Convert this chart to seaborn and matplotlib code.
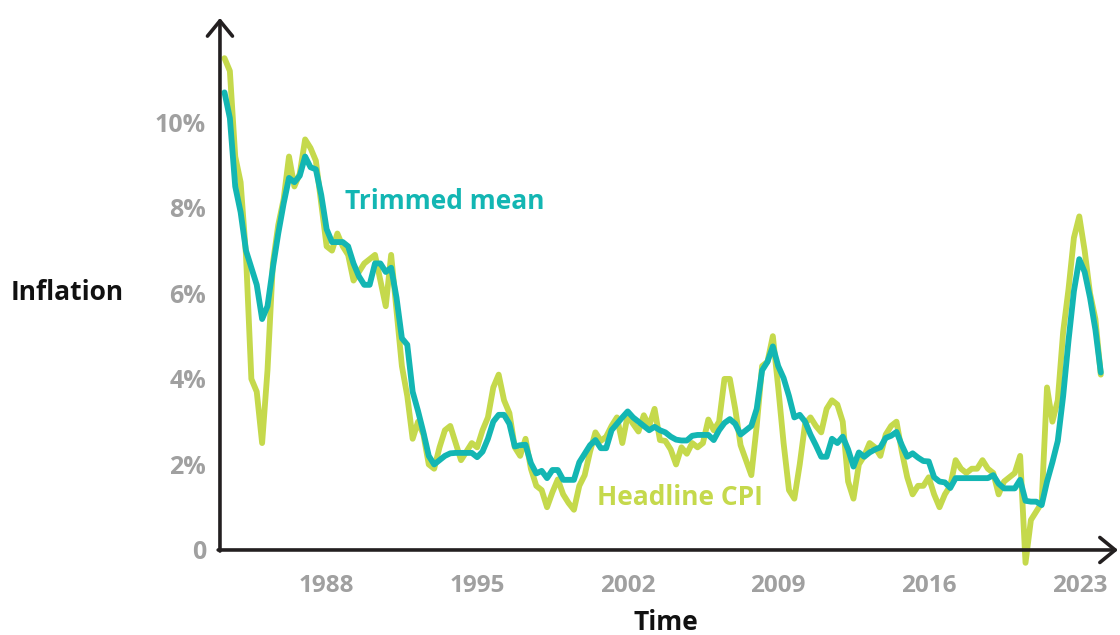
import numpy as np
import pandas as pd
import matplotlib
matplotlib.use("Agg")
import matplotlib.pyplot as plt
import seaborn as sns

# ---------------- data (year-ended %, quarterly, 1983Q1 .. 2023Q4) ----------------
quarters = pd.period_range("1983Q1", "2023Q4", freq="Q")

headline_cpi = [
    11.5, 11.2, 9.2, 8.6, 6.9, 4.0, 3.7, 2.5,            # 1983-84
    4.2, 6.7, 7.6, 8.2, 9.2, 8.5, 8.8, 9.6,              # 1985-86
    9.4, 9.1, 8.1, 7.1, 7.0, 7.4, 7.1, 6.9,              # 1987-88
    6.3, 6.5, 6.7, 6.8, 6.9, 6.3, 5.7, 6.9,              # 1989-90
    5.6, 4.3, 3.6, 2.6, 3.0, 2.7, 2.0, 1.9,              # 1991-92
    2.4, 2.8, 2.9, 2.5, 2.1, 2.3, 2.5, 2.4,              # 1993-94
    2.8, 3.1, 3.8, 4.1, 3.5, 3.2, 2.4, 2.2,              # 1995-96
    2.6, 1.9, 1.5, 1.4, 1.0, 1.35, 1.65, 1.3,            # 1997-98
    1.1, 0.94, 1.5, 1.75, 2.3, 2.75, 2.55, 2.65,         # 1999-00
    2.9, 3.1, 2.5, 3.15, 2.95, 2.77, 3.15, 2.9,          # 2001-02
    3.3, 2.57, 2.55, 2.35, 2.0, 2.4, 2.25, 2.5,          # 2003-04
    2.4, 2.5, 3.05, 2.8, 3.0, 4.0, 4.0, 3.3,             # 2005-06
    2.45, 2.1, 1.75, 2.9, 4.3, 4.4, 5.0, 3.8,            # 2007-08
    2.5, 1.4, 1.2, 2.0, 2.95, 3.1, 2.9, 2.75,            # 2009-10
    3.3, 3.5, 3.4, 3.0, 1.6, 1.2, 2.0, 2.2,              # 2011-12
    2.5, 2.4, 2.2, 2.7, 2.9, 3.0, 2.3, 1.7,              # 2013-14
    1.3, 1.5, 1.5, 1.7, 1.3, 1.0, 1.3, 1.5,              # 2015-16
    2.1, 1.9, 1.8, 1.9, 1.9, 2.1, 1.9, 1.8,              # 2017-18
    1.3, 1.6, 1.7, 1.8, 2.2, -0.3, 0.7, 0.9,             # 2019-20
    1.1, 3.8, 3.0, 3.5, 5.1, 6.1, 7.3, 7.8,              # 2021-22
    7.0, 6.0, 5.4, 4.1,                                  # 2023
]

trimmed_mean = [
    10.7, 10.1, 8.5, 7.9, 7.0, 6.6, 6.2, 5.4,            # 1983-84
    5.7, 6.6, 7.4, 8.1, 8.7, 8.6, 8.75, 9.2,             # 1985-86
    8.95, 8.9, 8.3, 7.5, 7.2, 7.2, 7.2, 7.1,             # 1987-88
    6.7, 6.4, 6.2, 6.2, 6.7, 6.7, 6.5, 6.6,              # 1989-90
    5.9, 4.95, 4.8, 3.7, 3.25, 2.75, 2.2, 2.0,           # 1991-92
    2.1, 2.2, 2.26, 2.27, 2.27, 2.27, 2.27, 2.17,        # 1993-94
    2.3, 2.6, 3.0, 3.16, 3.16, 2.95, 2.42, 2.45,         # 1995-96
    2.46, 2.03, 1.79, 1.85, 1.68, 1.87, 1.87, 1.64,      # 1997-98
    1.64, 1.64, 2.05, 2.25, 2.45, 2.57, 2.38, 2.38,      # 1999-00
    2.8, 2.95, 3.1, 3.24, 3.1, 3.0, 2.9, 2.8,            # 2001-02
    2.88, 2.8, 2.75, 2.65, 2.58, 2.56, 2.56, 2.67,       # 2003-04
    2.69, 2.69, 2.69, 2.57, 2.8, 2.97, 3.06, 2.95,       # 2005-06
    2.7, 2.8, 2.9, 3.3, 4.2, 4.4, 4.76, 4.3,             # 2007-08
    4.02, 3.6, 3.1, 3.16, 3.0, 2.7, 2.45, 2.18,          # 2009-10
    2.18, 2.6, 2.5, 2.65, 2.35, 1.95, 2.28, 2.18,        # 2011-12
    2.28, 2.35, 2.4, 2.62, 2.67, 2.76, 2.45, 2.18,       # 2013-14
    2.26, 2.16, 2.08, 2.07, 1.7, 1.6, 1.58, 1.45,        # 2015-16
    1.68, 1.68, 1.68, 1.68, 1.68, 1.68, 1.68, 1.75,      # 2017-18
    1.55, 1.44, 1.44, 1.44, 1.64, 1.15, 1.13, 1.13,      # 2019-20
    1.05, 1.6, 2.05, 2.55, 3.6, 4.9, 6.05, 6.8,          # 2021-22
    6.5, 5.9, 5.15, 4.15,                                # 2023
]

x_ticks = [1988, 1995, 2002, 2009, 2016, 2023]
y_ticks = [0, 2, 4, 6, 8, 10]
y_tick_labels = ["0", "2%", "4%", "6%", "8%", "10%"]
series_names = ["Headline CPI", "Trimmed mean"]
series_colors = ["#c5d94c", "#13b6b3"]

# quarter-end position on a decimal-year axis
time = np.asarray(quarters.year + quarters.quarter / 4.0, dtype=float)

df = pd.DataFrame({
    "time": np.concatenate([time, time]),
    "value": headline_cpi + trimmed_mean,
    "series": [series_names[0]] * len(time) + [series_names[1]] * len(time),
})

# ---------------- figure ----------------
sns.set_theme(style="white")
plt.rcParams["font.family"] = ["Open Sans", "DejaVu Sans"]

fig = plt.figure(figsize=(11.2, 6.35), dpi=100)
ax = fig.add_axes([0.1964, 0.1339, 0.8018, 0.8378])

sns.lineplot(
    data=df, x="time", y="value", hue="series",
    hue_order=series_names, palette=series_colors,
    linewidth=4.2, legend=False, ax=ax,
    solid_joinstyle="round", solid_capstyle="round",
)
for ln in ax.lines:
    ln.set_clip_on(False)

ax.set_xlim(1983.04, 2024.8)
ax.set_ylim(0, 12.44)

for s in ax.spines.values():
    s.set_visible(False)

axis_col = "#231f20"
ax.annotate("", xy=(0, 1.0), xytext=(0, -0.002), xycoords="axes fraction",
            arrowprops=dict(arrowstyle="->,head_length=0.55,head_width=0.45",
                            lw=2.6, color=axis_col, mutation_scale=20,
                            shrinkA=0, shrinkB=0), annotation_clip=False)
ax.annotate("", xy=(1.0, 0), xytext=(-0.002, 0), xycoords="axes fraction",
            arrowprops=dict(arrowstyle="->,head_length=0.55,head_width=0.45",
                            lw=2.6, color=axis_col, mutation_scale=20,
                            shrinkA=0, shrinkB=0), annotation_clip=False)

tick_col = "#a0a0a0"
ax.set_xticks(x_ticks)
ax.set_xticklabels([str(t) for t in x_ticks])
ax.set_yticks(y_ticks)
ax.set_yticklabels(y_tick_labels)
ax.tick_params(axis="x", direction="in", length=10, width=2.5, color="#9a9a9a",
               pad=17, labelsize=17.5, labelcolor=tick_col)
ax.tick_params(axis="y", length=0, pad=10, labelsize=18, labelcolor=tick_col)
for lab in ax.get_xticklabels() + ax.get_yticklabels():
    lab.set_fontweight("bold")

ax.set_xlabel("")
ax.set_ylabel("")
fig.text(67.5 / 1120, (635 - 293) / 635, "Inflation", ha="center", va="center",
         fontsize=19, fontweight="bold", color="#111111")
fig.text(666 / 1120, (635 - 623) / 635, "Time", ha="center", va="center",
         fontsize=19, fontweight="bold", color="#111111")

ax.text(1988.85, 8.16, "Trimmed mean", ha="left", va="center",
        fontsize=19, fontweight="bold", color=series_colors[1])
ax.text(2000.55, 1.22, "Headline CPI", ha="left", va="center",
        fontsize=19, fontweight="bold", color=series_colors[0])

fig.savefig("out.png", dpi=100)
